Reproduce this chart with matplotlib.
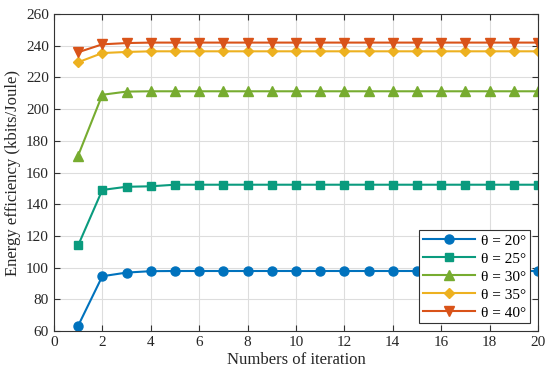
import matplotlib
matplotlib.use("Agg")
import matplotlib.pyplot as plt

plt.rcParams['font.family'] = ['Liberation Serif', 'DejaVu Serif']

# data
iters = list(range(1, 21))
ee_20 = [63.3, 94.6, 96.9, 97.8] + [97.9] * 16
ee_25 = [114.0, 149.0, 151.0, 151.3] + [152.3] * 16
ee_30 = [170.6, 209.0, 211.0] + [211.2] * 17
ee_35 = [229.5, 235.3, 236.0] + [236.4] * 17
ee_40 = [235.8, 240.8, 241.6] + [241.9] * 17
labels = ['θ = 20°', 'θ = 25°', 'θ = 30°', 'θ = 35°', 'θ = 40°']

colors = ['#0072BD', '#0A9B7E', '#77AC30', '#EDB120', '#D95319']
markers = ['o', 's', '^', 'D', 'v']
msizes = [6.5, 5.5, 7.5, 5.5, 7.5]

fig = plt.figure(figsize=(5.5, 3.75), dpi=100)
ax = fig.add_axes([0.098, 0.117, 0.88, 0.846])

for ys, lab, c, m, ms in zip([ee_20, ee_25, ee_30, ee_35, ee_40], labels, colors, markers, msizes):
    ax.plot(iters, ys, color=c, marker=m, markersize=ms, linewidth=1.5, label=lab)

ax.set_xlim(0, 20)
ax.set_ylim(60, 260)
ax.set_xticks(range(0, 21, 2))
ax.set_yticks(range(60, 261, 20))
ax.grid(True, color='#dddddd', linewidth=0.8)
ax.tick_params(direction='in', top=True, right=True, labelsize=11, length=4,
               color='#333333', labelcolor='#262626')
for s in ax.spines.values():
    s.set_color('#333333')
ax.set_xlabel('Numbers of iteration', fontsize=12, labelpad=2, color='#262626')
ax.set_ylabel('Energy efficiency (kbits/Joule)', fontsize=12, labelpad=4, color='#262626')

leg = ax.legend(loc='lower right', fontsize=11, fancybox=False, framealpha=1,
                edgecolor='#333333', handlelength=3.4, borderpad=0.25,
                labelspacing=0.28, handletextpad=0.4, borderaxespad=0.5)
leg.get_frame().set_linewidth(0.8)

fig.savefig('out.png', dpi=100)
